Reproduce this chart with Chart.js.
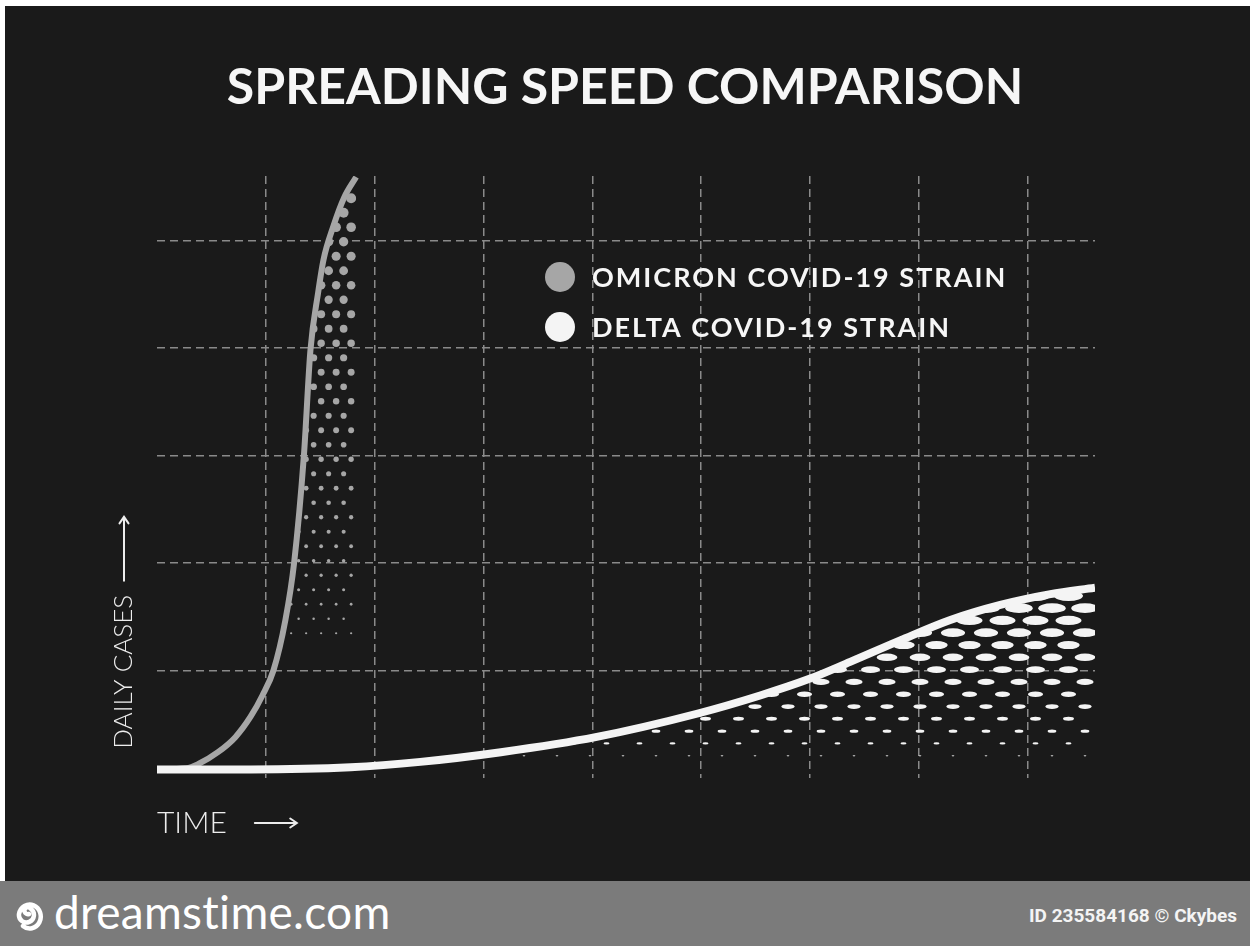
<!DOCTYPE html>
<html>
<head>
<meta charset="utf-8">
<script src="https://cdn.jsdelivr.net/npm/chart.js@4.4.1/dist/chart.umd.min.js"></script>
<style>
  html, body { margin: 0; padding: 0; background: #fff; }
  #stage { position: relative; width: 1250px; height: 946px; overflow: hidden; }
  #dark { position: absolute; left: 5px; top: 6px; width: 1245px; height: 875px; background: #1a1a1a; }
  #chartBox { position: absolute; left: 0; top: 0; width: 1250px; height: 881px; }
  #footer { position: absolute; left: 0; top: 881px; width: 1250px; height: 65px; background: #7b7b7b; }
  #brand { position: absolute; left: 12px; top: 6px; color: #fff; font-family: 'Lato', sans-serif; font-size: 46px; font-weight: 400; letter-spacing: 0.3px; line-height: 50px; display: flex; align-items: center; gap: 10px; }
  #imgId { position: absolute; right: 13px; top: 24px; color: #f4f4f4; font-family: 'Roboto', sans-serif; font-weight: 700; font-size: 19px; line-height: 22px; }
</style>
</head>
<body>
<div id="stage">
  <div id="dark"></div>
  <div id="chartBox"><canvas id="spread" width="1250" height="881"></canvas></div>
  <div id="footer">
    <div id="brand">
      <svg width="32" height="46" viewBox="0 0 32 46"><path d="M17 25 a3.5 3.5 0 1 1 2 -5 a7.5 7.5 0 1 1 -12 5 a11 12 0 1 1 4 12" fill="none" stroke="#fff" stroke-width="4.5" stroke-linecap="round"/></svg>
      <span>dreamstime.com</span>
    </div>
    <div id="imgId">ID 235584168 © Ckybes</div>
  </div>
</div>
<script>
// ---------- Data ----------
const omicronTime  = [0, 0.27, 0.38, 0.56, 0.72, 0.86, 0.97, 1.07, 1.18, 1.26, 1.35, 1.41, 1.48, 1.53, 1.62, 1.72, 1.83];
const omicronCases = [0.08, 0.09, 0.13, 0.24, 0.38, 0.57, 0.77, 1.00, 1.47, 2.00, 3.00, 3.98, 4.51, 4.82, 5.13, 5.40, 5.59];

const deltaTime  = [0, 0.86, 1.78, 2.42, 3.16, 4.03, 4.97, 5.55, 5.99, 6.37, 6.83, 7.29, 7.75, 8.21, 8.62];
const deltaCases = [0.08, 0.08, 0.10, 0.15, 0.24, 0.38, 0.60, 0.77, 0.92, 1.08, 1.28, 1.47, 1.61, 1.71, 1.77];

const seriesLabels = ['OMICRON COVID-19 STRAIN', 'DELTA COVID-19 STRAIN'];
const xMax = 8.62, yMax = 5.6;

const toPoints = (xs, ys) => xs.map((x, i) => ({ x, y: ys[i] }));

// ---------- Halftone fill under each curve ----------
const halftonePlugin = {
    id: 'halftone',
    beforeDatasetDraw(chart, args, opts) {
        const cfg = opts.sets && opts.sets[args.index];
        if (!cfg) return;
        const pts = args.meta.data;
        const { ctx, chartArea } = chart;
        const base = chart.scales.y.getPixelForValue(cfg.base);
        const top = Math.min(...pts.map(p => p.y));
        ctx.save();
        ctx.beginPath();
        ctx.rect(chartArea.left, chartArea.top, chartArea.right - chartArea.left, chartArea.bottom - chartArea.top);
        ctx.clip();
        ctx.beginPath();
        ctx.moveTo(pts[0].x, base);
        ctx.lineTo(pts[0].x, pts[0].y);
        for (let i = 1; i < pts.length; i++) {
            const p = pts[i - 1], q = pts[i];
            ctx.bezierCurveTo(p.cp2x, p.cp2y, q.cp1x, q.cp1y, q.x, q.y);
        }
        ctx.lineTo(pts[pts.length - 1].x, base);
        ctx.closePath();
        ctx.clip();
        ctx.fillStyle = cfg.color;
        const xRight = pts[pts.length - 1].x - cfg.inset;
        let row = 0;
        for (let y = base - cfg.dy / 2; y > top - cfg.dy; y -= cfg.dy, row++) {
            const t = Math.max(0, Math.min(1, (base - y) / (base - top)));
            const w = cfg.wMax * Math.pow(t, cfg.gamma);
            if (w < cfg.minW) continue;
            const h = w * cfg.ratio;
            const shift = (row % 2) ? cfg.dx / 2 : 0;
            for (let x = xRight - shift; x > pts[0].x - cfg.dx; x -= cfg.dx) {
                ctx.beginPath();
                ctx.ellipse(x, y, w / 2, Math.max(h, 1.2) / 2, 0, 0, Math.PI * 2);
                ctx.fill();
            }
        }
        ctx.restore();
    }
};

// ---------- Legend drawn inside the plot ----------
const innerLegend = {
    id: 'innerLegend',
    afterDraw(chart, args, opts) {
        const { ctx } = chart;
        ctx.save();
        ctx.font = opts.font;
        if ('letterSpacing' in ctx) ctx.letterSpacing = opts.spacing;
        ctx.textBaseline = 'middle';
        chart.data.datasets.forEach((ds, i) => {
            const y = opts.y + i * opts.gap;
            ctx.fillStyle = ds.borderColor;
            ctx.beginPath();
            ctx.arc(opts.x, y, opts.r, 0, Math.PI * 2);
            ctx.fill();
            ctx.fillStyle = opts.color;
            ctx.fillText(ds.label, opts.x + opts.r + 17, y + 1);
        });
        ctx.restore();
    }
};

// ---------- Long arrows after the axis titles ----------
function arrow(ctx, x0, y0, x1, y1, head) {
    const a = Math.atan2(y1 - y0, x1 - x0);
    ctx.beginPath();
    ctx.moveTo(x0, y0);
    ctx.lineTo(x1, y1);
    ctx.moveTo(x1 - head * Math.cos(a - 0.6), y1 - head * Math.sin(a - 0.6));
    ctx.lineTo(x1, y1);
    ctx.lineTo(x1 - head * Math.cos(a + 0.6), y1 - head * Math.sin(a + 0.6));
    ctx.stroke();
}

const axisArrows = {
    id: 'axisArrows',
    afterDraw(chart, args, opts) {
        const { ctx } = chart;
        const toFont = Chart.helpers.toFont;
        ctx.save();
        ctx.strokeStyle = opts.color;
        ctx.lineWidth = opts.width;
        ctx.lineCap = 'round';
        // x axis
        const xs = chart.scales.x, xt = xs.options.title, xf = toFont(xt.font);
        ctx.font = xf.string;
        const xw = ctx.measureText(xt.text).width;
        const xy = xs.bottom - xf.lineHeight / 2 - xt.padding.bottom;
        const xa = xs.left + xw + opts.gapX;
        arrow(ctx, xa, xy, xa + opts.lenX, xy, 8);
        // y axis
        const ys = chart.scales.y, yt = ys.options.title, yf = toFont(yt.font);
        ctx.font = yf.string;
        const yw = ctx.measureText(yt.text).width;
        const yx = ys.left + yf.lineHeight / 2 + yt.padding.top;
        const ya = ys.bottom - yw - opts.gapY;
        arrow(ctx, yx, ya, yx, ya - opts.lenY, 8);
        ctx.restore();
    }
};

const gridColor = '#8a8a8a';
const gridDash = [8, 5];

new Chart(document.getElementById('spread'), {
    type: 'line',
    data: {
        datasets: [
            {
                label: seriesLabels[0],
                data: toPoints(omicronTime, omicronCases),
                borderColor: '#a6a6a6',
                borderWidth: 6,
                pointRadius: 0,
                cubicInterpolationMode: 'monotone',
                fill: false,
                order: 2
            },
            {
                label: seriesLabels[1],
                data: toPoints(deltaTime, deltaCases),
                borderColor: '#f4f4f4',
                borderWidth: 8,
                pointRadius: 0,
                cubicInterpolationMode: 'monotone',
                fill: false,
                order: 1
            }
        ]
    },
    options: {
        responsive: false,
        animation: false,
        layout: { padding: 0 },
        plugins: {
            legend: { display: false },
            tooltip: { enabled: false },
            title: {
                display: true,
                text: 'SPREADING SPEED COMPARISON',
                color: '#f6f6f6',
                font: { family: 'Lato', size: 50, weight: 'bold', lineHeight: 1.2 },
                padding: { top: 58, bottom: 58 }
            },
            halftone: {
                sets: {
                    0: { color: '#a6a6a6', base: 0.2, dx: 15, dy: 14.5, wMax: 10.5, ratio: 1, gamma: 1.0, minW: 2, inset: 5 },
                    1: { color: '#f4f4f4', base: 0.15, dx: 33, dy: 12.3, wMax: 30, ratio: 0.36, gamma: 0.72, minW: 1.5, inset: 10 }
                }
            },
            innerLegend: {
                x: 560, y: 277, gap: 50, r: 15,
                font: '700 27px Lato', spacing: '2px', color: '#f6f6f6'
            },
            axisArrows: { color: '#ededed', width: 2, gapX: 28, lenX: 42, gapY: 14, lenY: 64 }
        },
        scales: {
            x: {
                type: 'linear',
                min: 0,
                max: xMax,
                afterFit: s => { s.height = 103; },
                border: { display: false, dash: gridDash },
                ticks: { display: false, stepSize: 1, includeBounds: false },
                grid: {
                    color: c => (c.tick && c.tick.value > 0) ? gridColor : 'transparent',
                    lineWidth: 1.5,
                    drawTicks: false
                },
                title: {
                    display: true,
                    text: 'TIME',
                    align: 'start',
                    color: '#ededed',
                    font: { family: 'Lato', size: 30, weight: 300, lineHeight: 1.2 },
                    padding: { top: 0, bottom: 40 }
                }
            },
            y: {
                min: 0,
                max: yMax,
                afterFit: s => { s.width = 157; },
                border: { display: false, dash: gridDash },
                ticks: { display: false, stepSize: 1, includeBounds: false },
                grid: {
                    color: c => (c.tick && c.tick.value > 0) ? gridColor : 'transparent',
                    lineWidth: 1.5,
                    drawTicks: false
                },
                title: {
                    display: true,
                    text: '\u2002\u2002\u2009DAILY CASES',
                    align: 'start',
                    color: '#ededed',
                    font: { family: 'Lato', size: 26, weight: 300, lineHeight: 1.2 },
                    padding: { top: 108.4, bottom: 0 }
                }
            },
            // empty right-hand band so the plot ends where the picture does
            r: {
                position: 'right',
                display: true,
                afterFit: s => { s.width = 155; },
                border: { display: false },
                ticks: { display: false },
                grid: { display: false }
            }
        }
    },
    plugins: [halftonePlugin, innerLegend, axisArrows]
});
</script>
</body>
</html>
